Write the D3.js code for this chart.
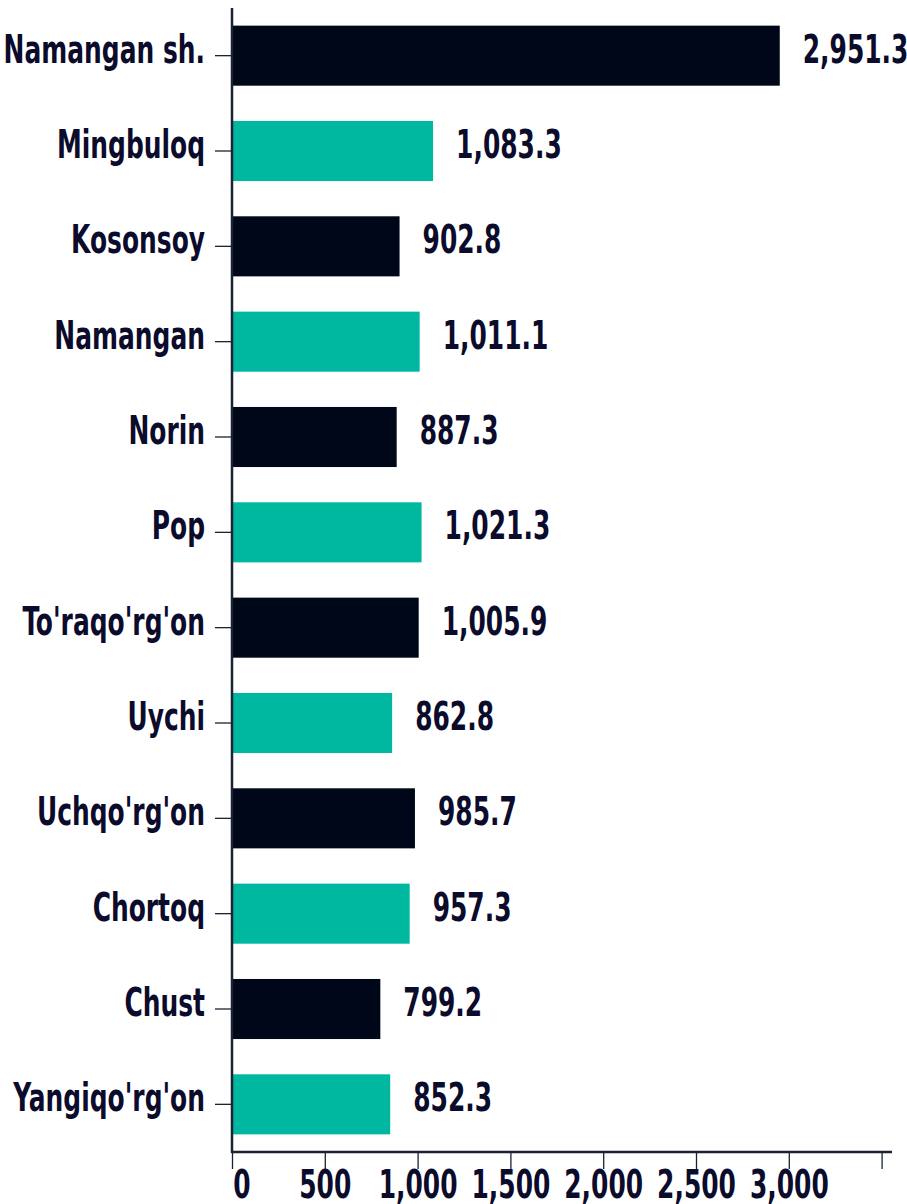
<!DOCTYPE html>
<html>
<head>
<meta charset="utf-8">
<script src="https://cdn.jsdelivr.net/npm/d3@7"></script>
<style>
  body { margin: 0; background: #fff; }
  svg text { font-family: "Liberation Sans Narrow", "DejaVu Sans Condensed", sans-serif; font-weight: bold; fill: #0b0b2b; }
</style>
</head>
<body>
<svg id="chart" width="907" height="1204"></svg>
<script>
// districts, top to bottom
var districts = ["Namangan sh.", "Mingbuloq", "Kosonsoy", "Namangan", "Norin", "Pop",
  "To'raqo'rg'on", "Uychi", "Uchqo'rg'on", "Chortoq", "Chust", "Yangiqo'rg'on"];
var values = [2951.3, 1083.3, 902.8, 1011.1, 887.3, 1021.3, 1005.9, 862.8, 985.7, 957.3, 799.2, 852.3];
var xTicks = [0, 500, 1000, 1500, 2000, 2500, 3000, 3500];

var navy = "#000718", teal = "#00b8a0", axisCol = "#1a2333";
var sx = 0.84, sy = 1.16; // squeeze the fallback font into a tall condensed look

var svg = d3.select("#chart");
var plotLeft = 232, plotTop = 8, plotBottom = 1152;

var x = d3.scaleLinear().domain([0, 3500]).range([plotLeft, plotLeft + 3500 * 0.1856]);
var y = d3.scaleBand().domain(districts).range([plotTop, plotBottom])
  .paddingInner(0.37).paddingOuter(0.185);

var data = districts.map(function(d, i) { return { name: d, value: values[i], i: i }; });

// bars
svg.selectAll("rect.bar")
    .data(data)
  .enter().append("rect")
    .attr("class", "bar")
    .attr("x", x(0))
    .attr("y", function(d) { return y(d.name); })
    .attr("width", function(d) { return x(d.value) - x(0); })
    .attr("height", y.bandwidth())
    .attr("fill", function(d) { return d.i % 2 ? teal : navy; });

// value labels
svg.selectAll("text.val")
    .data(data)
  .enter().append("text")
    .attr("class", "val")
    .attr("transform", function(d) {
      return "translate(" + (x(d.value) + 23) + "," + (y(d.name) + y.bandwidth() / 2) + ")scale(" + sx + "," + sy + ")";
    })
    .attr("dy", "0.18em")
    .style("font-size", "33px")
    .text(function(d) { return d3.format(",.1f")(d.value); });

// y axis
var yAxis = svg.append("g")
    .attr("transform", "translate(" + plotLeft + ",0)")
    .call(d3.axisLeft(y).tickSize(17).tickPadding(9));
yAxis.select(".domain").remove();
yAxis.selectAll(".tick line").attr("stroke", axisCol).attr("stroke-width", 1.3);
yAxis.selectAll(".tick text")
    .attr("transform", "scale(" + sx + "," + sy + ")")
    .attr("x", -27 / sx)
    .attr("dy", "0.18em")
    .attr("fill", "#0b0b2b")
    .style("font-size", "33px");

// x axis
var xAxis = svg.append("g")
    .attr("transform", "translate(0," + plotBottom + ")")
    .call(d3.axisBottom(x).tickValues(xTicks).tickSize(17).tickPadding(-1)
      .tickFormat(function(d) { return d > 3000 ? "" : d3.format(",")(d); }));
xAxis.select(".domain").remove();
xAxis.selectAll(".tick line").attr("stroke", axisCol).attr("stroke-width", 1.3);
xAxis.selectAll(".tick text")
    .attr("fill", "#0b0b2b")
    .attr("transform", "scale(" + sx + "," + sy + ")")
    .style("font-size", "33px");
xAxis.selectAll(".tick text").filter(function(d) { return d === 0; })
    .attr("text-anchor", "start").attr("x", 1);

// axis lines
svg.append("line")
    .attr("x1", plotLeft).attr("x2", plotLeft)
    .attr("y1", plotTop).attr("y2", plotBottom + 1)
    .attr("stroke", axisCol).attr("stroke-width", 2.5);
svg.append("line")
    .attr("x1", plotLeft - 1).attr("x2", 892)
    .attr("y1", plotBottom).attr("y2", plotBottom)
    .attr("stroke", axisCol).attr("stroke-width", 2.5);
</script>
</body>
</html>
